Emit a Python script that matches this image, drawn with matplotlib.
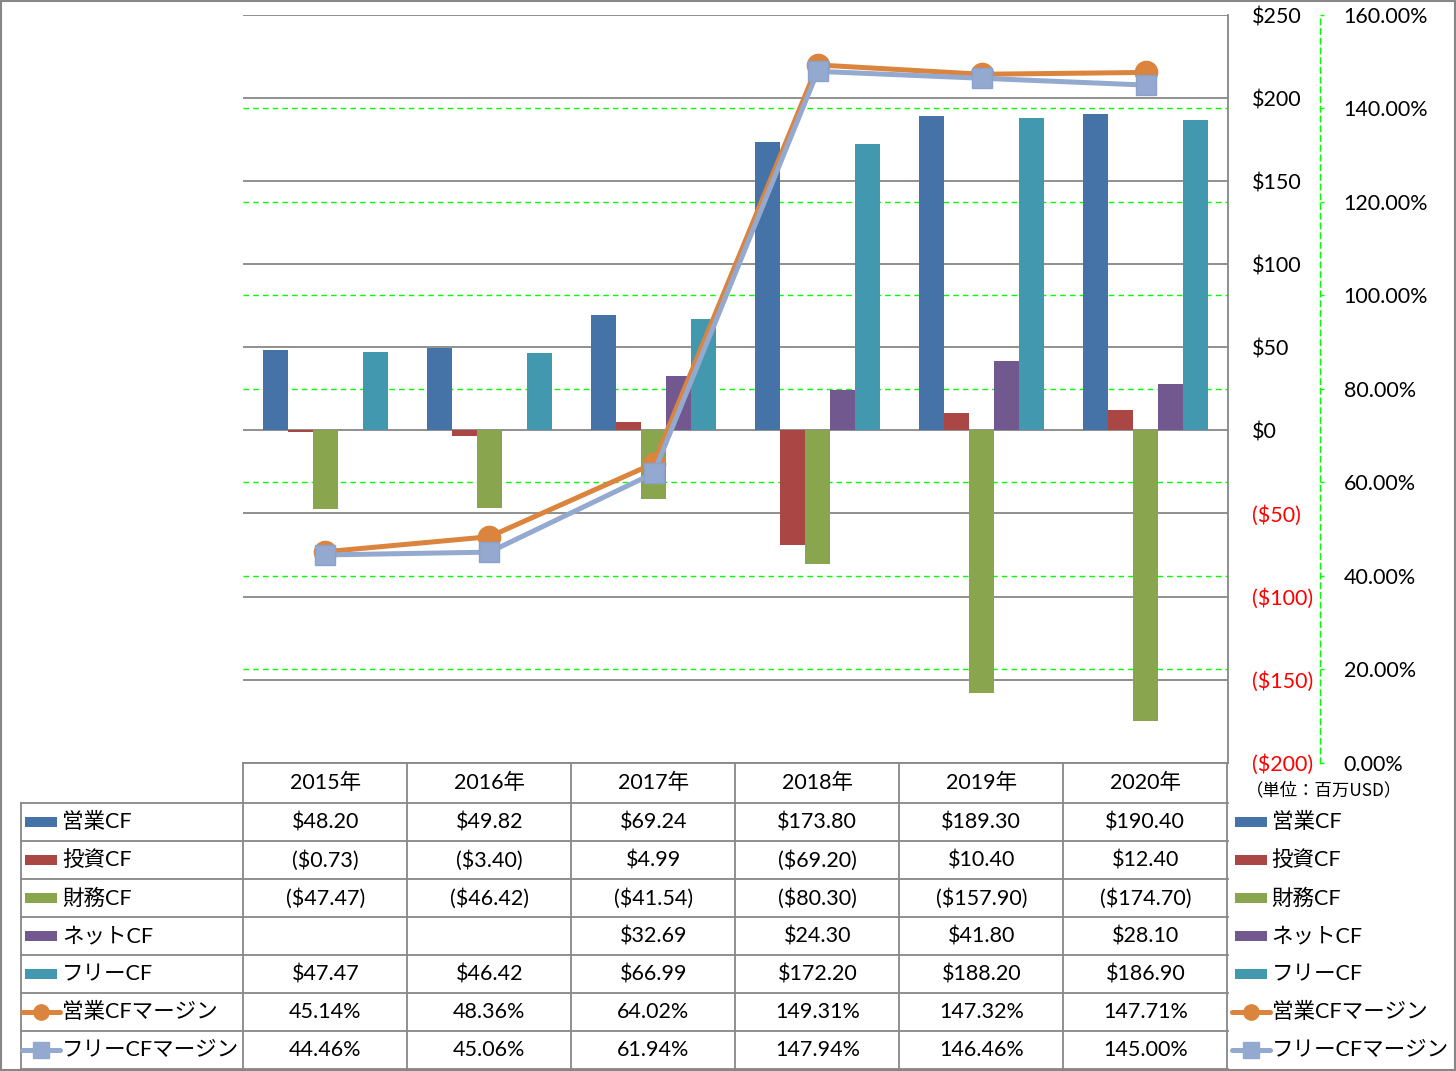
import numpy as np
import matplotlib.pyplot as plt
from matplotlib.lines import Line2D
from matplotlib.patches import Rectangle
from matplotlib.transforms import blended_transform_factory

plt.rcParams['font.family'] = ['Lato', 'Noto Sans CJK JP', 'DejaVu Sans']

# --- data (百万USD / %) ---
years = ['2015年', '2016年', '2017年', '2018年', '2019年', '2020年']
bar_names = ['営業CF', '投資CF', '財務CF', 'ネットCF', 'フリーCF']
operating_cf = [48.20, 49.82, 69.24, 173.80, 189.30, 190.40]
investing_cf = [-0.73, -3.40, 4.99, -69.20, 10.40, 12.40]
financing_cf = [-47.47, -46.42, -41.54, -80.30, -157.90, -174.70]
net_cf = [np.nan, np.nan, 32.69, 24.30, 41.80, 28.10]
free_cf = [47.47, 46.42, 66.99, 172.20, 188.20, 186.90]
line_names = ['営業CFマージン', 'フリーCFマージン']
op_margin = [45.14, 48.36, 64.02, 149.31, 147.32, 147.71]
free_margin = [44.46, 45.06, 61.94, 147.94, 146.46, 145.00]

usd_ticks = [-200, -150, -100, -50, 0, 50, 100, 150, 200, 250]
pct_ticks = [0, 20, 40, 60, 80, 100, 120, 140, 160]

bar_colors = ['#4572A7', '#AA4643', '#89A54E', '#71588F', '#4198AF']
line_colors = ['#DB843D', '#93A9CF']
grid_gray = '#878787'
green = '#00FF00'

W, H = 1456, 1071
fig = plt.figure(figsize=(W / 100, H / 100), dpi=100)

# plot area in pixels
x0, x1, y0, y1 = 243.3, 1228, 15, 762.7
ax = fig.add_axes([x0 / W, 1 - y1 / H, (x1 - x0) / W, (y1 - y0) / H])
ax.set_xlim(-0.5, len(years) - 0.5)
ax.set_ylim(-200, 250)
ax.set_xticks([])
for s in ['left', 'top', 'bottom']:
    ax.spines[s].set_visible(False)
ax.spines['right'].set_color(grid_gray)
ax.spines['right'].set_linewidth(1.3)
ax.grid(axis='y', color=grid_gray, lw=1.3)
ax.set_axisbelow(True)

x = np.arange(len(years))
bw = 25 / 164
series = [operating_cf, investing_cf, financing_cf, net_cf, free_cf]
for i, (vals, c) in enumerate(zip(series, bar_colors)):
    ax.bar(x + (i - 2) * bw, vals, width=bw, color=c, zorder=2)

# secondary axis
ax2 = ax.twinx()
ax2.set_ylim(0, 160)
ax2.set_xlim(ax.get_xlim())
for s in ['left', 'top', 'bottom']:
    ax2.spines[s].set_visible(False)
ax2.spines['right'].set_position(('axes', (1320 - x0) / (x1 - x0)))
ax2.spines['right'].set_color(green)
ax2.spines['right'].set_linestyle((0, (4, 3)))
ax2.spines['right'].set_linewidth(1)
ax2.set_yticks(pct_ticks)
ax2.set_yticklabels([f'{v:.2f}%' for v in pct_ticks])
ax2.tick_params(axis='y', direction='out', length=3, width=1, color=green,
                pad=14, labelsize=15.5)

# primary labels on the right (after twinx, which moves them left)
ax.yaxis.tick_right()
ax.set_yticks(usd_ticks)
ax.set_yticklabels([f'${v}' if v >= 0 else f'(${-v})' for v in usd_ticks])
for lbl, v in zip(ax.get_yticklabels(), usd_ticks):
    lbl.set_color('#FF0000' if v < 0 else 'black')
ax.tick_params(axis='y', length=0, pad=17, labelsize=15.5,
               labelright=True, labelleft=False)

# secondary gridlines drawn beneath the bars
tr = blended_transform_factory(ax.transAxes, ax2.transData)
for v in pct_ticks[1:-1]:
    ax.add_line(Line2D([0, 1], [v, v], transform=tr, color=green, lw=1,
                       ls=(0, (4, 3)), zorder=1))

ax2.plot(x, op_margin, color=line_colors[0], lw=3.6, marker='o', ms=16,
         zorder=3, solid_capstyle='round')
ax2.plot(x, free_margin, color=line_colors[1], lw=3.6, marker='s', ms=15,
         mec='#8AA1CB', zorder=4, solid_capstyle='round')

# --- data table drawn in pixel coordinates ---
tab = fig.add_axes([0, 0, 1, 1], zorder=5)
tab.set_xlim(0, W)
tab.set_ylim(H, 0)
tab.axis('off')
tab.patch.set_visible(False)

tab.add_patch(Rectangle((0.7, 0.7), W - 1.6, H - 1.6, fill=False,
                        ec=grid_gray, lw=1.5))

col_edges = [x0 + 164 * i for i in range(len(years) + 1)]
row_edges = [803.3, 841.3, 879.3, 917.3, 955.3, 993.3, 1031.3, 1069.3]
lk = dict(color=grid_gray, lw=1.3)
tab.plot([x0, x1], [y1, y1], **lk)
for ry in row_edges:
    tab.plot([20.7, x1], [ry, ry], **lk)
tab.plot([20.7, 20.7], [row_edges[0], row_edges[-1]], **lk)
for cx in col_edges:
    tab.plot([cx, cx], [y1, row_edges[-1]], **lk)

fs = 15.5
centers = [(a + b) / 2 for a, b in zip(col_edges[:-1], col_edges[1:])]
for cx, yr in zip(centers, years):
    tab.text(cx, (y1 + row_edges[0]) / 2, yr, ha='center', va='center', fontsize=fs)


def money(v):
    if np.isnan(v):
        return ''
    return f'${v:,.2f}' if v >= 0 else f'(${-v:,.2f})'


rows = [[money(v) for v in s] for s in series]
rows += [[f'{v:.2f}%' for v in m] for m in (op_margin, free_margin)]
row_mid = [(a + b) / 2 for a, b in zip(row_edges[:-1], row_edges[1:])]
for ry, vals in zip(row_mid, rows):
    for cx, t in zip(centers, vals):
        tab.text(cx, ry, t, ha='center', va='center', fontsize=fs)

names = bar_names + line_names
for kx, tx in [(25, 62), (1235, 1271.5)]:
    for i, (ry, name) in enumerate(zip(row_mid, names)):
        if i < 5:
            tab.add_patch(Rectangle((kx, ry - 5), 32, 10, color=bar_colors[i], lw=0))
        else:
            c = line_colors[i - 5]
            tab.plot([kx - 3, kx + 35], [ry, ry], color=c, lw=3.6,
                     solid_capstyle='round')
            tab.plot([kx + 16], [ry], marker='o' if i == 5 else 's', ms=11,
                     color=c, mec=c)
        tab.text(tx, ry, name, ha='left', va='center', fontsize=fs)

tab.text(1246, 790, '（単位：百万USD）', ha='left', va='center', fontsize=12.5,
         family=['Noto Sans CJK JP'])

fig.savefig('out.png', dpi=100)
